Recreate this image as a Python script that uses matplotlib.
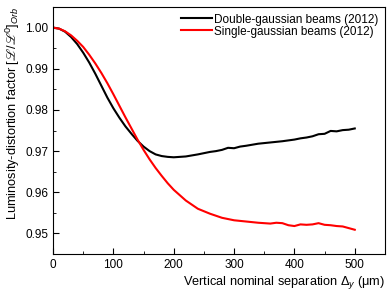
import matplotlib
matplotlib.use('Agg')
import matplotlib.pyplot as plt
from matplotlib.ticker import MultipleLocator, FormatStrFormatter

plt.rcParams['font.family'] = ['Liberation Sans', 'DejaVu Sans']
plt.rcParams['mathtext.fontset'] = 'custom'
plt.rcParams['mathtext.rm'] = 'Liberation Sans'
plt.rcParams['mathtext.it'] = 'Liberation Sans:italic'
plt.rcParams['mathtext.fallback'] = 'stix'

# separation in um
sep_double = [0, 10, 20, 30, 40, 50, 60, 70, 80, 90, 100, 110, 120, 130, 140, 150,
              160, 170, 180, 190, 200, 220, 240, 260, 270, 280, 290, 300, 310,
              320, 340, 360, 380, 400, 410, 420, 430, 440, 450, 460, 470, 480,
              490, 500]
lumi_double = [1.0000, 0.99975, 0.9990, 0.9977, 0.9960, 0.9939, 0.9915, 0.9888,
               0.9859, 0.9830, 0.9804, 0.9781, 0.9760, 0.9742, 0.9725, 0.9711,
               0.9700, 0.9692, 0.9688, 0.9686, 0.9685, 0.9687, 0.9692, 0.9698,
               0.9700, 0.9703, 0.9708, 0.9707, 0.9711, 0.9713, 0.9718, 0.9721,
               0.9724, 0.9728, 0.9731, 0.9733, 0.9736, 0.9741, 0.9742, 0.9749,
               0.9748, 0.9751, 0.9752, 0.9755]

sep_single = [0, 10, 20, 30, 40, 50, 60, 70, 80, 90, 100, 110, 120, 130, 140, 150,
              160, 170, 180, 190, 200, 220, 240, 260, 280, 300, 320, 340, 360,
              370, 380, 390, 400, 410, 420, 430, 440, 450, 460, 470, 480, 490, 500]
lumi_single = [1.0000, 0.99975, 0.9991, 0.9981, 0.9968, 0.9953, 0.9934, 0.9913,
               0.9890, 0.9865, 0.9838, 0.9810, 0.9782, 0.9755, 0.9728, 0.9703,
               0.9680, 0.9659, 0.9640, 0.9622, 0.9606, 0.9580, 0.9560, 0.9548,
               0.9538, 0.9532, 0.9529, 0.9526, 0.9524, 0.9526, 0.9525, 0.9520,
               0.9518, 0.9522, 0.9521, 0.9522, 0.9525, 0.9521, 0.9520, 0.9518,
               0.9517, 0.9513, 0.9509]

fig = plt.figure(figsize=(3.9, 2.92), dpi=100)
ax = fig.add_axes([0.136, 0.130, 0.851, 0.846])

ax.plot(sep_double, lumi_double, color='black', lw=1.5, label='Double-gaussian beams (2012)')
ax.plot(sep_single, lumi_single, color='red', lw=1.5, label='Single-gaussian beams (2012)')

ax.set_xlim(0, 550)
ax.set_ylim(0.945, 1.005)
ax.xaxis.set_major_locator(MultipleLocator(100))
ax.xaxis.set_minor_locator(MultipleLocator(50))
ax.yaxis.set_major_locator(MultipleLocator(0.01))
ax.yaxis.set_minor_locator(MultipleLocator(0.005))
ax.yaxis.set_major_formatter(FormatStrFormatter('%.2f'))
ax.tick_params(which='both', direction='in', labelsize=8.5, top=False, right=False)
ax.tick_params(which='major', length=4)
ax.tick_params(which='minor', length=2)

ax.set_xlabel('Vertical nominal separation $\\Delta_y$ (\u03bcm)', fontsize=9.2, loc='right', labelpad=2)
ax.set_ylabel('Luminosity-distortion factor [$\u2112/\u2112^0]_{Orb}$', fontsize=9.2, loc='top', labelpad=2)

ax.legend(loc='upper right', frameon=False, fontsize=8.5, handlelength=2.6,
          handletextpad=0.2, labelspacing=0.0, borderaxespad=0.15)

fig.savefig('out.png', dpi=100)
